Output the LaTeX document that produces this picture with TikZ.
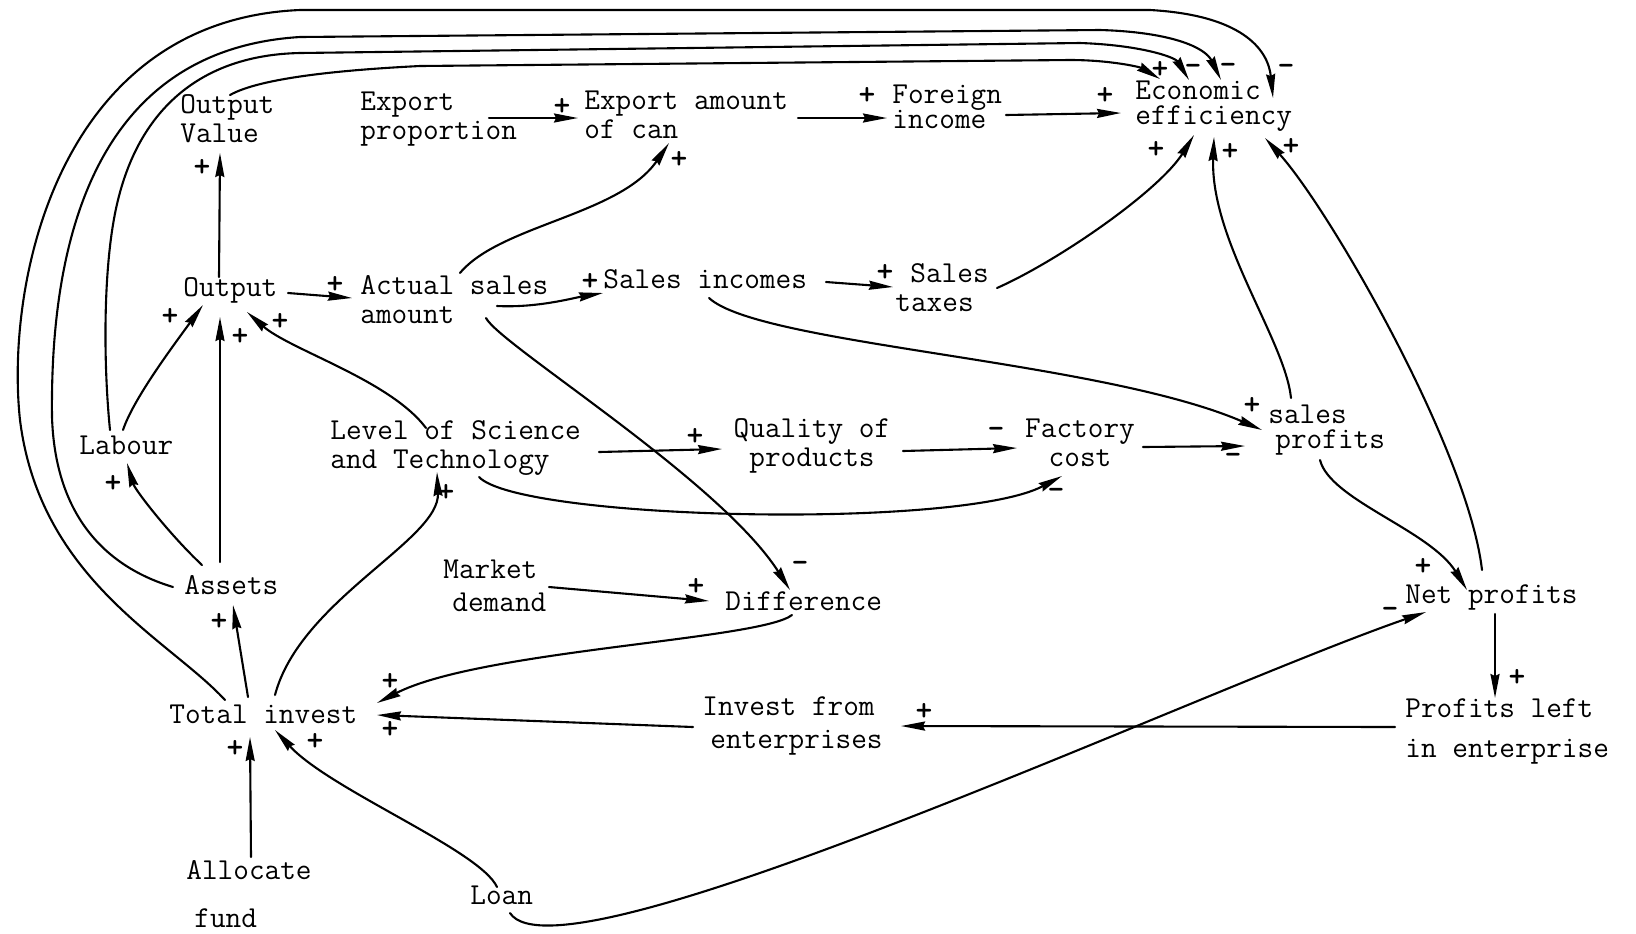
\documentclass[tikz,border=0pt]{standalone}
\usepackage{fontspec}
\usetikzlibrary{arrows.meta}

\tikzset{
  var/.style={inner sep=0pt, anchor=west, align=left,
    font=\ttfamily\fontsize{15.2}{14.5}\selectfont},
  link/.style={line width=1.05pt, line cap=round,
    -{Stealth[length=12pt,width=4.5pt,inset=1pt]}},
  sgn/.style={inner sep=0pt, font=\ttfamily\bfseries\fontsize{16}{16}\selectfont},
}

\begin{document}
\begin{tikzpicture}[x=0.5pt,y=-0.5pt]
    \useasboundingbox (0,0) rectangle (1636,933);

    % variables, top row
    \node[var] (outval) at (180,119) {Output\\Value};
    \node[var] (expprop) at (360,119) {Export\\proportion};
    \node[var] (expamt) at (584,115) {Export amount\\of can};
    \node[var] (forinc) at (892,107) {Foreign\\[-2pt]income};
    \node[var] (econ) at (1135,106) {Economic\\[-2pt]efficiency};

    % sales row
    \node[var] (output) at (183,290) {Output};
    \node[var] (actual) at (360,300) {Actual sales\\amount};
    \node[var] (salesinc) at (603,279) {Sales incomes};
    \node[var] (salestax) at (895,288) {\hspace*{7.5pt}Sales\\taxes};

    % technology and cost row
    \node[var] (labour) at (79,445) {Labour};
    \node[var] (levelsci) at (330,448) {Level of Science\\and Technology};
    \node[var,anchor=center,align=center] (quality) at (812,446) {Quality of\\products};
    \node[var,anchor=center,align=center] (factory) at (1080,443) {Factory\\cost};
    \node[var] (salesprof) at (1268,430) {sales\\[-2pt]\hspace*{3.5pt}profits};

    % demand and profit row
    \node[var] (assets) at (184,585) {Assets};
    \node[var] (market) at (443,586) {Market\\[2pt]\hspace*{4.5pt}demand};
    \node[var] (diff) at (725,601) {Difference};
    \node[var] (netprof) at (1405,597) {Net profits};

    % investment row
    \node[var] (totinv) at (169,714) {Total invest};
    \node[var] (investfrom) at (702,726) {Invest from\\[2pt]\hspace*{4pt}enterprises};
    \node[var] (profleft) at (1405,731) {Profits left\\[5.5pt]in enterprise};
    \node[var] (allocate) at (186,894) {Allocate\\[9.5pt]\hspace*{4pt}fund};
    \node[var] (loan) at (470,895) {Loan};

    % links
    \draw[link] ([shift={(36,-13)}]output.west) -- ([shift={(40,34)}]outval.west);
    \draw[link] ([shift={(129,-1)}]expprop.west) -- ([shift={(-6,3)}]expamt.west);
    \draw[link] ([shift={(214,3)}]expamt.west) -- ([shift={(-5,11)}]forinc.west);
    \draw[link] ([shift={(114,8)}]forinc.west) -- ([shift={(-14,7)}]econ.west);
    \draw[link] ([shift={(100,-27)}]actual.west) .. controls +(40,-48) and +(-49,72) .. ([shift={(85,28)}]expamt.west);
    \draw[link] ([shift={(105,3)}]output.west) -- ([shift={(-8,-2)}]actual.west);
    \draw[link] ([shift={(137,6)}]actual.west) .. controls +(40,2) and +(-30,5) .. ([shift={(0,14)}]salesinc.west);
    \draw[link] ([shift={(223,3)}]salesinc.west) -- ([shift={(-2,-1)}]salestax.west);
    \draw[link] ([shift={(102,0)}]salestax.west) .. controls +(63,-28) and +(-34,55) .. ([shift={(59,29)}]econ.west);
    \draw[link] ([shift={(23,-32)}]salesprof.west) .. controls +(-6,-58) and +(-4,103) .. ([shift={(79,31)}]econ.west);
    \draw[link] ([shift={(77,-27)}]netprof.west) .. controls +(-14,-120) and +(65,72) .. ([shift={(130,32)}]econ.west);
    \draw[link] ([shift={(106,19)}]salesinc.west) .. controls +(51,47) and +(-162,-70) .. ([shift={(-6,0)}]salesprof.west);
    \draw[link] ([shift={(63,4)}]factory.center) -- ([shift={(-23,16)}]salesprof.west);
    \draw[link] ([shift={(91,5)}]quality.center) -- ([shift={(-63,5)}]factory.center);
    \draw[link] ([shift={(269,4)}]levelsci.west) -- ([shift={(-90,3)}]quality.center);
    \draw[link] ([shift={(149,29)}]levelsci.west) .. controls +(41,43) and +(-102,54) .. ([shift={(-18,33)}]factory.center);
    \draw[link] ([shift={(96,-20)}]levelsci.west) .. controls +(-36,-48) and +(43,38) .. ([shift={(64,22)}]output.west);
    \draw[link] ([shift={(44,-15)}]labour.west) .. controls +(10,-30) and +(-33,45) .. ([shift={(20,15)}]output.west);
    \draw[link] ([shift={(36,-23)}]assets.west) -- ([shift={(37,27)}]output.west);
    \draw[link] ([shift={(18,-20)}]assets.west) .. controls +(-32,-30) and +(8,27) .. ([shift={(48,18)}]labour.west);
    \draw[link] ([shift={(79,-17)}]totinv.west) -- ([shift={(49,20)}]assets.west);
    \draw[link] ([shift={(106,-19)}]totinv.west) .. controls +(25,-95) and +(3,68) .. ([shift={(107,24)}]levelsci.west);
    \draw[link] ([shift={(67,14)}]diff.west) .. controls +(-32,25) and +(103,-53) .. ([shift={(208,-11)}]totinv.west);
    \draw[link] ([shift={(-9,1)}]investfrom.west) -- ([shift={(208,1)}]totinv.west);
    \draw[link] ([shift={(-10,-4)}]profleft.west) -- ([shift={(199,0)}]investfrom.west);
    \draw[link] ([shift={(90,17)}]netprof.west) -- ([shift={(90,-33)}]profleft.west);
    \draw[link] ([shift={(52,30)}]salesprof.west) .. controls +(10,40) and +(-37,-60) .. ([shift={(62,-7)}]netprof.west);
    \draw[link] ([shift={(40,18)}]loan.west) .. controls +(50,77) and +(-226,78) .. ([shift={(21,15)}]netprof.west);
    \draw[link] ([shift={(27,-8)}]loan.west) .. controls +(-17,-37) and +(55,60) .. ([shift={(106,16)}]totinv.west);
    \draw[link] ([shift={(65,-37)}]allocate.west) -- ([shift={(81,23)}]totinv.west);
    \draw[link] ([shift={(106,1)}]market.west) -- ([shift={(-16,0)}]diff.west);
    \draw[link] ([shift={(126,18)}]actual.west) .. controls +(14,27) and +(-70,-110) .. ([shift={(65,-11)}]diff.west);

    % feedback loops over the top into Economic efficiency
    \draw[link] ([shift={(50,-24)}]outval.west) .. controls +(30,-17) and +(-80,4) .. (420,66)
        -- (1070,60) .. controls +(40,0) and +(-20,-12) .. ([shift={(25,-27)}]econ.west);
    \draw[link] ([shift={(31,-15)}]labour.west) .. controls +(-7,-70) and +(-15,60) .. (118,200)
        .. controls +(22,-90) and +(-100,2) .. (300,53)
        -- (1080,43) .. controls +(60,2) and +(-14,-23) .. ([shift={(54,-26)}]econ.west);
    \draw[link] ([shift={(-11,2)}]assets.west) .. controls +(-73,-22) and +(3,93) .. (52,417)
        .. controls +(-2,-167) and +(-210,13) .. (300,37)
        -- (1100,30) .. controls +(70,2) and +(-16,-33) .. ([shift={(86,-26)}]econ.west);
    \draw[link] ([shift={(56,-14)}]totinv.west) .. controls +(-55,-60) and +(20,160) .. (20,420)
        .. controls +(-15,-140) and +(-240,10) .. (300,10)
        -- (1150,10) .. controls +(90,5) and +(-5,-50) .. ([shift={(138,-8)}]econ.west);

    % polarities
    \node[sgn] (s1) at (202,168) {+};
    \node[sgn] (s2) at (562,107) {+};
    \node[sgn] (s3) at (867,96) {+};
    \node[sgn] (s4) at (1105,96) {+};
    \node[sgn] (s5) at (679,160) {+};
    \node[sgn] (s6) at (335,285) {+};
    \node[sgn] (s7) at (590,282) {+};
    \node[sgn] (s8) at (885,273) {+};
    \node[sgn] (s9) at (1156,150) {+};
    \node[sgn] (s10) at (1230,152) {+};
    \node[sgn] (s11) at (1291,147) {+};
    \node[sgn] (s12) at (1252,406) {+};
    \node[sgn] (s13) at (1233,459) {-};
    \node[sgn] (s14) at (996,433) {-};
    \node[sgn] (s15) at (695,437) {+};
    \node[sgn] (s16) at (1056,494) {-};
    \node[sgn] (s17) at (280,322) {+};
    \node[sgn] (s18) at (170,317) {+};
    \node[sgn] (s19) at (240,337) {+};
    \node[sgn] (s20) at (113,484) {+};
    \node[sgn] (s21) at (219,622) {+};
    \node[sgn] (s22) at (446,493) {+};
    \node[sgn] (s23) at (390,682) {+};
    \node[sgn] (s24) at (390,730) {+};
    \node[sgn] (s25) at (924,712) {+};
    \node[sgn] (s26) at (1517,678) {+};
    \node[sgn] (s27) at (1423,567) {+};
    \node[sgn] (s28) at (1390,613) {-};
    \node[sgn] (s29) at (696,587) {+};
    \node[sgn] (s30) at (800,567) {-};
    \node[sgn] (s31) at (315,742) {+};
    \node[sgn] (s32) at (235,749) {+};
    \node[sgn] (s33) at (1160,70) {+};
    \node[sgn] (s34) at (1193,70) {-};
    \node[sgn] (s35) at (1228,69) {-};
    \node[sgn] (s36) at (1286,70) {-};

\end{tikzpicture}
\end{document}
